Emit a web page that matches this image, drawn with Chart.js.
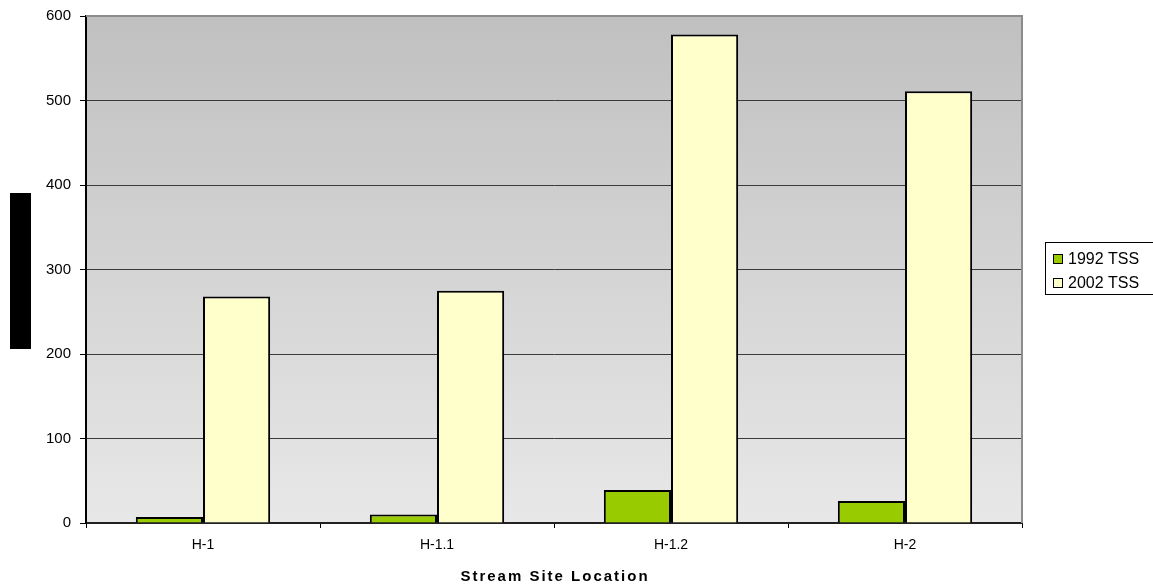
<!DOCTYPE html>
<html>
<head>
<meta charset="utf-8">
<script src="https://cdn.jsdelivr.net/npm/chart.js@4/dist/chart.umd.min.js"></script>
<style>
  html, body { margin: 0; padding: 0; background: #fff; }
</style>
</head>
<body>
<canvas id="chart" width="1153" height="588"></canvas>
<script>
const sites = ["H-1", "H-1.1", "H-1.2", "H-2"];
const tss1992 = [7, 10, 39, 26];
const tss2002 = [268, 275, 578, 511];
const seriesNames = ["1992 TSS", "2002 TSS"];
const xTitle = "Stream Site Location";

const FONT = "'Liberation Sans', Arial, sans-serif";
Chart.defaults.font.family = FONT;
Chart.defaults.color = "#000";

// grey gradient behind the plot, black box at left, boxed legend and spaced title
const decor = {
    id: "decor",
    beforeDraw(chart) {
        const { ctx, chartArea: a } = chart;
        const g = ctx.createLinearGradient(0, a.top, 0, a.bottom);
        g.addColorStop(0, "#c0c0c0");
        g.addColorStop(1, "#e8e8e8");
        ctx.save();
        ctx.fillStyle = g;
        ctx.fillRect(a.left, a.top, a.right - a.left, a.bottom - a.top);
        ctx.fillStyle = "#000";
        ctx.fillRect(10, 193, 21, 156);
        ctx.restore();
    },
    beforeDatasetsDraw(chart) {
        const { ctx, chartArea: a } = chart;
        ctx.save();
        ctx.strokeStyle = "#8c8c8c";
        ctx.lineWidth = 2;
        ctx.beginPath();
        ctx.moveTo(a.left, a.top);
        ctx.lineTo(a.right, a.top);
        ctx.lineTo(a.right, a.bottom);
        ctx.stroke();
        ctx.restore();
    },
    afterDraw(chart) {
        const { ctx, chartArea: a } = chart;
        ctx.save();
        ctx.strokeStyle = "#000";
        ctx.lineWidth = 1;
        ctx.strokeRect(1045.5, 242.5, 112, 52);
        ctx.font = "16px " + FONT;
        ctx.textBaseline = "middle";
        chart.data.datasets.forEach((ds, i) => {
            const y = 259 + i * 24;
            ctx.fillStyle = ds.backgroundColor;
            ctx.fillRect(1053, y - 5, 10, 10);
            ctx.strokeRect(1053.5, y - 4.5, 9, 9);
            ctx.fillStyle = "#000";
            ctx.fillText(ds.label, 1068, y + 1);
        });
        ctx.font = "bold 15px " + FONT;
        ctx.letterSpacing = "2px";
        ctx.textAlign = "center";
        ctx.fillText(xTitle, (a.left + a.right) / 2 + 1, 577);
        ctx.restore();
    }
};

new Chart("chart", {
    type: "bar",
    data: {
        labels: sites,
        datasets: [{
            label: seriesNames[0],
            data: tss1992,
            backgroundColor: "#99cc00",
            borderColor: "#000",
            borderWidth: 2,
            borderSkipped: "bottom"
        }, {
            label: seriesNames[1],
            data: tss2002,
            backgroundColor: "#ffffcc",
            borderColor: "#000",
            borderWidth: 2,
            borderSkipped: "bottom"
        }]
    },
    options: {
        responsive: false,
        animation: false,
        devicePixelRatio: 1,
        categoryPercentage: 0.574,
        barPercentage: 1,
        layout: { padding: { top: 16, right: 131, left: 0, bottom: 0 } },
        plugins: {
            legend: { display: false },
            tooltip: { enabled: false }
        },
        scales: {
            x: {
                afterFit(scale) { scale.height = 65; },
                grid: {
                    offset: true,
                    drawOnChartArea: false,
                    color: "#000",
                    tickLength: 5,
                    tickColor: "#000"
                },
                border: { color: "#222", width: 2 },
                ticks: { font: { size: 14 }, padding: 9 }
            },
            y: {
                min: 0,
                max: 600,
                afterFit(scale) {
                    scale.width = 86;
                    scale.paddingTop = 0;
                    scale.paddingBottom = 0;
                },
                ticks: { stepSize: 100, font: { size: 15 }, padding: 9 },
                grid: {
                    color: (c) => c.tick && c.tick.value === 600 ? "rgba(0,0,0,0)" : "#3a3a3a",
                    tickLength: 6,
                    tickColor: "#000"
                },
                border: { color: "#000", width: 2 }
            }
        }
    },
    plugins: [decor]
});
</script>
</body>
</html>
